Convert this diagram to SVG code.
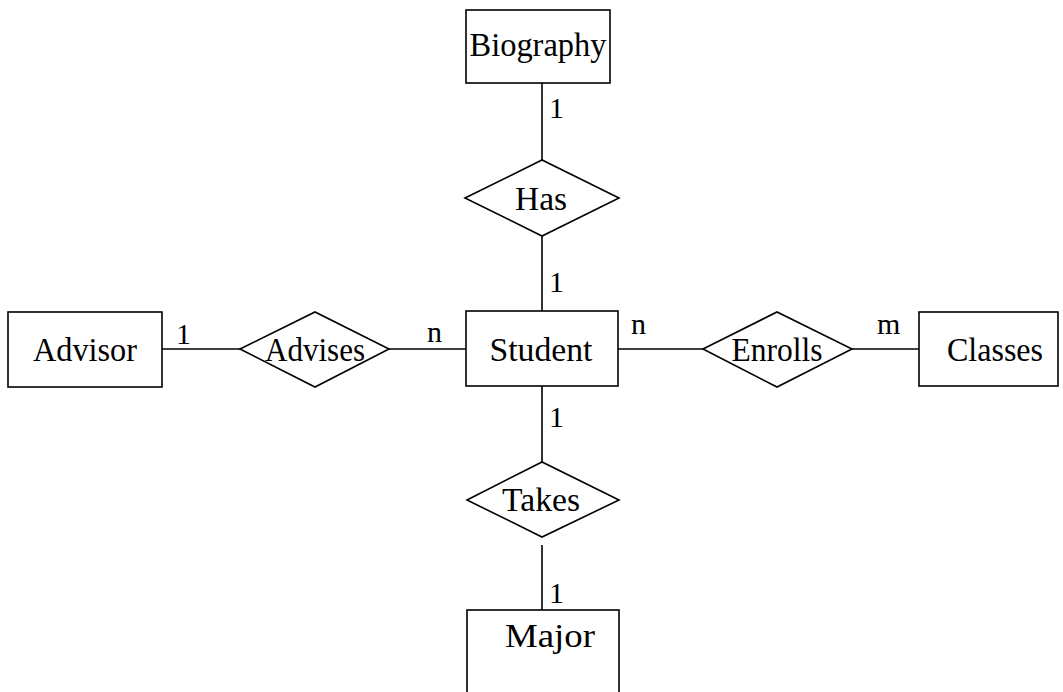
<svg xmlns="http://www.w3.org/2000/svg" width="1063" height="692" viewBox="0 0 1063 692">
<style>
.shape{fill:#fff;stroke:#000;stroke-width:1.6}
.line{stroke:#000;stroke-width:1.6;fill:none}
.t{font-family:"Liberation Serif","Times New Roman",serif;font-size:34px;fill:#000;text-anchor:middle}
.lbl{font-family:"Liberation Serif","Times New Roman",serif;font-size:30px;fill:#000}
</style>
<rect width="1063" height="692" fill="#fff"/>
<g id="connectors">
<line class="line" x1="542" y1="83" x2="542" y2="160"/>
<line class="line" x1="542" y1="236" x2="542" y2="311"/>
<line class="line" x1="542" y1="386" x2="542" y2="462"/>
<line class="line" x1="542" y1="545" x2="542" y2="610"/>
<line class="line" x1="162" y1="349" x2="240" y2="349"/>
<line class="line" x1="389" y1="349" x2="466" y2="349"/>
<line class="line" x1="618" y1="349" x2="703" y2="349"/>
<line class="line" x1="852" y1="349" x2="919" y2="349"/>
<text class="lbl" x="549" y="118">1</text>
<text class="lbl" x="549" y="292">1</text>
<text class="lbl" x="549" y="427">1</text>
<text class="lbl" x="549" y="603">1</text>
<text class="lbl" x="176" y="344">1</text>
<text class="lbl" x="427" y="342">n</text>
<text class="lbl" x="631" y="334">n</text>
<text class="lbl" x="877" y="334">m</text>
</g>
<g id="biography">
<rect class="shape" x="466" y="10" width="144" height="73"/>
<text class="t" x="538" y="56" textLength="137" lengthAdjust="spacingAndGlyphs">Biography</text>
</g>
<g id="has">
<polygon class="shape" points="465,198 542,160 619,198 542,236"/>
<text class="t" x="541" y="210" textLength="52" lengthAdjust="spacingAndGlyphs">Has</text>
</g>
<g id="advisor">
<rect class="shape" x="8" y="312" width="154" height="75"/>
<text class="t" x="85" y="361" textLength="104" lengthAdjust="spacingAndGlyphs">Advisor</text>
</g>
<g id="advises">
<polygon class="shape" points="240,349 315,312 389,349 315,387"/>
<text class="t" x="315" y="361" textLength="100" lengthAdjust="spacingAndGlyphs">Advises</text>
</g>
<g id="student">
<rect class="shape" x="466" y="311" width="152" height="75"/>
<text class="t" x="541" y="361" textLength="103" lengthAdjust="spacingAndGlyphs">Student</text>
</g>
<g id="enrolls">
<polygon class="shape" points="703,349 777,312 852,349 777,387"/>
<text class="t" x="777" y="361" textLength="91" lengthAdjust="spacingAndGlyphs">Enrolls</text>
</g>
<g id="classes">
<rect class="shape" x="919" y="312" width="139" height="74"/>
<text class="t" x="995" y="361" textLength="96" lengthAdjust="spacingAndGlyphs">Classes</text>
</g>
<g id="takes">
<polygon class="shape" points="467,500 542,462 619,500 542,537"/>
<text class="t" x="541" y="511" textLength="78" lengthAdjust="spacingAndGlyphs">Takes</text>
</g>
<g id="major">
<rect class="shape" x="467" y="610" width="152" height="100"/>
<text class="t" x="550" y="647" textLength="90" lengthAdjust="spacingAndGlyphs">Major</text>
</g>
</svg>
